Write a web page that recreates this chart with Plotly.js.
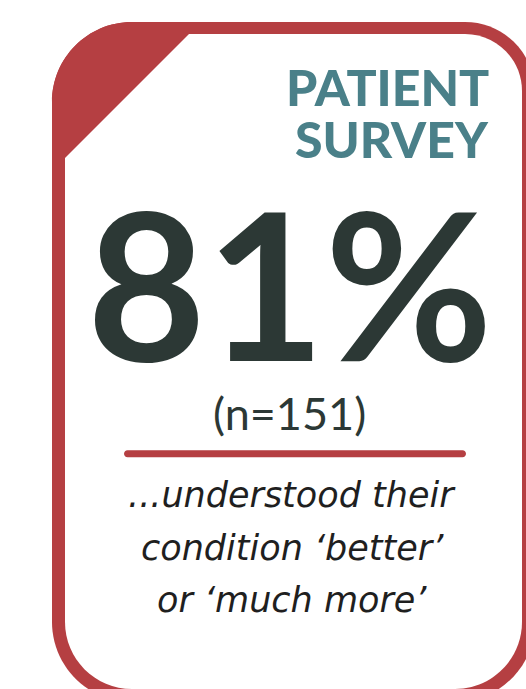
<!DOCTYPE html>
<html>
<head>
<meta charset="utf-8">
<script src="https://cdn.plot.ly/plotly-3.0.1.min.js"></script>
<style>html,body{margin:0;padding:0;background:#fff;overflow:hidden}#chart{width:526px;height:689px}</style>
</head>
<body>
<div id="chart"></div>
<script>
// ---- content ----
const titleLines = ['PATIENT', 'SURVEY'];
const percentValue = [81];
const sampleSize = [151];
const captionLines = ['...understood their', 'condition \u2018better\u2019', 'or \u2018much more\u2019'];

// ---- styling / geometry (pixel coordinates) ----
const RED = '#b53f42', TEAL = '#4a8089', DARK = '#2c3835', INK = '#1f1f1f';
const W = 526, H = 689;
const card = {x0: 52, y0: 22, x1: 535, y1: 702, bwTop: 12, bwSide: 13, rTL: 80, rTR: 70, rBL: 80, rBR: 80};
const K = 0.5523;

function roundRect(x0, y0, x1, y1, rTL, rTR, rBR, rBL) {
  return 'M ' + (x0 + rTL) + ' ' + y0 +
    ' L ' + (x1 - rTR) + ' ' + y0 +
    ' C ' + (x1 - rTR + K * rTR) + ' ' + y0 + ' ' + x1 + ' ' + (y0 + rTR - K * rTR) + ' ' + x1 + ' ' + (y0 + rTR) +
    ' L ' + x1 + ' ' + (y1 - rBR) +
    ' C ' + x1 + ' ' + (y1 - rBR + K * rBR) + ' ' + (x1 - rBR + K * rBR) + ' ' + y1 + ' ' + (x1 - rBR) + ' ' + y1 +
    ' L ' + (x0 + rBL) + ' ' + y1 +
    ' C ' + (x0 + rBL - K * rBL) + ' ' + y1 + ' ' + x0 + ' ' + (y1 - rBL + K * rBL) + ' ' + x0 + ' ' + (y1 - rBL) +
    ' L ' + x0 + ' ' + (y0 + rTL) +
    ' C ' + x0 + ' ' + (y0 + rTL - K * rTL) + ' ' + (x0 + rTL - K * rTL) + ' ' + y0 + ' ' + (x0 + rTL) + ' ' + y0 + ' Z';
}

const c = card, bt = card.bwTop, bs = card.bwSide;
const outer = roundRect(c.x0, c.y0, c.x1, c.y1, c.rTL, c.rTR, c.rBR, c.rBL);
const inner = roundRect(c.x0 + bs, c.y0 + bt, c.x1 - bs, c.y1 - bs, c.rTL - bs, c.rTR - bs, c.rBR - bs, c.rBL - bs);
// corner flag: follows outer corner, then diagonal across the inner area
const flag = 'M ' + c.x0 + ' 170 L ' + c.x0 + ' ' + (c.y0 + c.rTL) +
  ' C ' + c.x0 + ' ' + (c.y0 + c.rTL - K * c.rTL) + ' ' + (c.x0 + c.rTL - K * c.rTL) + ' ' + c.y0 + ' ' + (c.x0 + c.rTL) + ' ' + c.y0 +
  ' L 200 ' + c.y0 + ' L 200 ' + (c.y0 + bt) + ' L 189 ' + (c.y0 + bt) + ' L ' + (c.x0 + bs) + ' 158 L ' + (c.x0 + bs) + ' 170 Z';

// divider with rounded ends
const dv = {xa: 127.5, xb: 462.5, y: 453.7, r: 3.5};
const divider = 'M ' + dv.xa + ' ' + (dv.y - dv.r) + ' L ' + dv.xb + ' ' + (dv.y - dv.r) +
  ' C ' + (dv.xb + K * dv.r) + ' ' + (dv.y - dv.r) + ' ' + (dv.xb + dv.r) + ' ' + (dv.y - K * dv.r) + ' ' + (dv.xb + dv.r) + ' ' + dv.y +
  ' C ' + (dv.xb + dv.r) + ' ' + (dv.y + K * dv.r) + ' ' + (dv.xb + K * dv.r) + ' ' + (dv.y + dv.r) + ' ' + dv.xb + ' ' + (dv.y + dv.r) +
  ' L ' + dv.xa + ' ' + (dv.y + dv.r) +
  ' C ' + (dv.xa - K * dv.r) + ' ' + (dv.y + dv.r) + ' ' + (dv.xa - dv.r) + ' ' + (dv.y + K * dv.r) + ' ' + (dv.xa - dv.r) + ' ' + dv.y +
  ' C ' + (dv.xa - dv.r) + ' ' + (dv.y - K * dv.r) + ' ' + (dv.xa - K * dv.r) + ' ' + (dv.y - dv.r) + ' ' + dv.xa + ' ' + (dv.y - dv.r) + ' Z';

const shapes = [
  {type: 'path', path: outer, fillcolor: RED, line: {width: 0}, xref: 'x', yref: 'y', layer: 'below'},
  {type: 'path', path: inner, fillcolor: '#ffffff', line: {width: 0}, xref: 'x', yref: 'y', layer: 'below'},
  {type: 'path', path: flag, fillcolor: RED, line: {width: 0}, xref: 'x', yref: 'y', layer: 'below'},
  {type: 'path', path: divider, fillcolor: RED, line: {width: 0}, xref: 'x', yref: 'y'}
];

const titleFont = {family: 'Lato', size: 50, color: TEAL, weight: 900};
const annotations = [];
titleLines.forEach(function (t, i) {
  annotations.push({x: 491, y: 87 + i * 52, xref: 'x', yref: 'y', text: t, height: 50,
    showarrow: false, xanchor: 'right', yanchor: 'middle', font: titleFont});
});
annotations.push({x: 290, y: 282, xref: 'x', yref: 'y', text: '<b>' + percentValue[0] + '%</b>', height: 180,
  showarrow: false, xanchor: 'center', yanchor: 'middle', font: {family: 'Lato', size: 205, color: DARK}});
annotations.push({x: 289, y: 413, xref: 'x', yref: 'y', text: '(n=' + sampleSize[0] + ')',
  showarrow: false, xanchor: 'center', yanchor: 'middle', font: {family: 'Lato', size: 45, color: DARK}});
captionLines.forEach(function (t, i) {
  annotations.push({x: 292, y: 495 + i * 52.5, xref: 'x', yref: 'y', text: '<i>' + t + '</i>',
    showarrow: false, xanchor: 'center', yanchor: 'middle', font: {family: 'DejaVu Sans', size: 35, color: INK}});
});

const layout = {
  width: W, height: H,
  margin: {l: 0, r: 0, t: 0, b: 0, pad: 0},
  paper_bgcolor: '#ffffff', plot_bgcolor: '#ffffff',
  xaxis: {range: [0, W], visible: false, fixedrange: true},
  yaxis: {range: [H, 0], visible: false, fixedrange: true},
  showlegend: false,
  shapes: shapes,
  annotations: annotations
};

Plotly.newPlot('chart', [{x: [], y: [], type: 'scatter'}], layout, {displayModeBar: false, staticPlot: true});
</script>
</body>
</html>
